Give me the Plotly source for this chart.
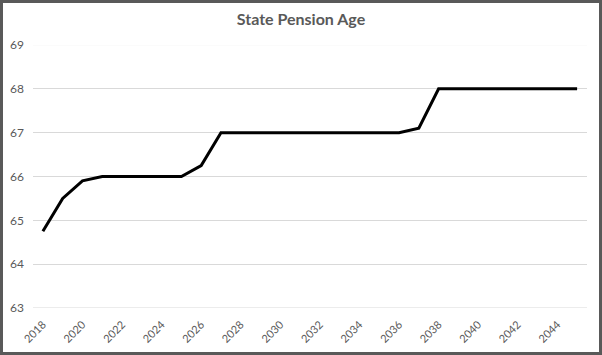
import plotly.graph_objects as go

years = list(range(2018, 2046))
pension_age = [64.75, 65.5, 65.9, 66, 66, 66, 66, 66, 66.25, 67,
               67, 67, 67, 67, 67, 67, 67, 67, 67, 67.1,
               68, 68, 68, 68, 68, 68, 68, 68]
x_ticks = list(range(2018, 2046, 2))
y_ticks = [63, 64, 65, 66, 67, 68, 69]

W, H = 602, 355
ML, MR, MT, MB = 33, 15, 45, 47
pw, ph = W - ML - MR, H - MT - MB

fig = go.Figure()
fig.add_trace(go.Scatter(x=years, y=pension_age, mode="lines",
                         line=dict(color="black", width=3), hoverinfo="x+y"))

font = "Lato, Carlito, 'Open Sans', sans-serif"
fig.update_layout(
    width=W, height=H,
    margin=dict(l=ML, r=MR, t=MT, b=MB, pad=0, autoexpand=False),
    paper_bgcolor="white", plot_bgcolor="white",
    showlegend=False,
    title=dict(text="<b>State Pension Age</b>", x=0.5, xanchor="center",
               y=1 - 19 / H, yanchor="middle",
               font=dict(family=font, size=16, color="#595959")),
    xaxis=dict(range=[2017.5, 2045.5], tickvals=x_ticks,
               ticktext=[str(v) for v in x_ticks], tickangle=-45,
               showgrid=False, zeroline=False, showline=False, ticks="",
               ticklabelstandoff=7, automargin=False,
               tickfont=dict(family=font, size=11, color="#595959")),
    yaxis=dict(range=[63, 69], tickvals=y_ticks, showgrid=True,
               gridcolor="#d9d9d9", gridwidth=1, zeroline=False,
               showline=False, ticks="", ticklabelstandoff=8, automargin=False,
               tickfont=dict(family=font, size=12, color="#595959")),
)

# bottom gridline (edge of range)
fig.add_shape(type="line", xref="paper", yref="y", x0=0, x1=1, y0=63, y1=63,
              line=dict(color="#d9d9d9", width=1), layer="below")

# faint top gridline like the reference
fig.add_shape(type="line", xref="paper", yref="y", x0=0, x1=1, y0=69, y1=69,
              line=dict(color="#f7f7f7", width=1), layer="above")

# outer chart border
fig.add_shape(type="rect", xref="paper", yref="paper",
              x0=(1.5 - ML) / pw, x1=(W - 1.5 - ML) / pw,
              y0=-(MB - 1.5) / ph, y1=1 + (MT - 1.5) / ph,
              line=dict(color="#595959", width=3), layer="above")

fig.write_html("out.html")
